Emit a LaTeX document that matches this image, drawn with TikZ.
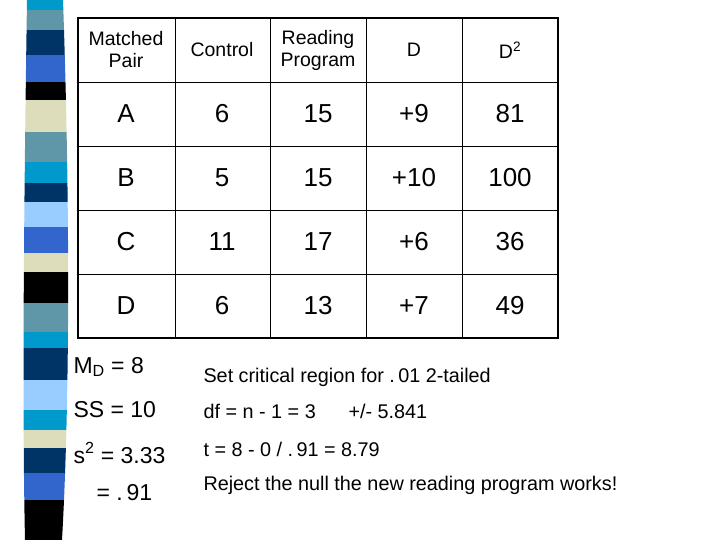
\documentclass[tikz,border=0pt]{standalone}
\usepackage{fontspec}
\setmainfont{Liberation Sans}
\begin{document}
\begin{tikzpicture}[x=1pt,y=-1pt,
  hdr/.style={font=\fontsize{19.5}{22}\selectfont,align=center},
  cell/.style={font=\fontsize{26}{30}\selectfont},
  lt/.style={font=\fontsize{23}{26}\selectfont,anchor=west},
  rt/.style={font=\fontsize{19.8}{23}\selectfont,anchor=west}]
\definecolor{cy}{HTML}{0099CC}\definecolor{gb}{HTML}{5F96A8}
\definecolor{nv}{HTML}{003366}\definecolor{rb}{HTML}{3366CC}
\definecolor{bg}{HTML}{DDDDBB}\definecolor{lb}{HTML}{99CCFF}
\useasboundingbox (0,0) rectangle (720,540);
\fill[white] (0,0) rectangle (720,540);
\begin{scope}
\clip (27,0) .. controls (24,200) and (22,400) .. (25,540) -- (62,540) .. controls (70,400) and (70,200) .. (63,0) -- cycle;
\foreach \a/\b/\c in {0/10/cy,10/30/gb,30/55/nv,55/82/rb,82/100/black,100/132/bg,132/162/gb,162/183/cy,183/202/nv,202/227/lb,227/253/rb,253/272/bg,272/303/black,303/332/gb,332/348/cy,348/380/nv,380/410/lb,410/430/cy,430/448/bg,448/473/nv,473/500/rb,500/540/black}
  \fill[\c] (0,\a) rectangle (80,\b);
\end{scope}
\draw[line width=0.8] (175,18)--(175,338) (270,18)--(270,338) (366,18)--(366,338) (462,18)--(462,338);
\draw[line width=0.8] (78,82)--(558,82) (78,146)--(558,146) (78,210)--(558,210) (78,274)--(558,274);
\draw[line width=1.5] (78,18) rectangle (558,338);
\node[hdr] (h1) at (126,50) {Matched\\Pair};
\node[hdr] (h2) at (222,50) {Control};
\node[hdr] (h3) at (318,50) {Reading\\Program};
\node[hdr] (h4) at (414,50) {D};
\node[hdr] (h5) at (510,50) {D\textsuperscript{2}};
\foreach \r/\y/\p/\q/\s/\t/\u in {1/114/A/6/15/+9/81,2/178/B/5/15/+10/100,3/242/C/11/17/+6/36,4/306/D/6/13/+7/49}{
  \node[cell] (a\r) at (126,\y) {\p};
  \node[cell] (b\r) at (222,\y) {\q};
  \node[cell] (c\r) at (318,\y) {\s};
  \node[cell] (d\r) at (414,\y) {\t};
  \node[cell] (e\r) at (510,\y) {\u};}
\node[lt] (m) at (70,367) {M\textsubscript{D} = 8};
\node[lt] (ss) at (70,410) {SS = 10};
\node[lt] (s2) at (70,453) {s\textsuperscript{2} = 3.33};
\node[lt] (v) at (93,493) {= .\,91};
\node[rt] (r1) at (200,377) {Set critical region for .\,01 2-tailed};
\node[rt] (r2) at (200,411) {df = n - 1 = 3};
\node[rt] (r3) at (345,411) {+/- 5.841};
\node[rt] (r4) at (200,449) {t = 8 - 0 / .\,91 = 8.79};
\node[rt] (r5) at (200,485) {Reject the null the new reading program works!};
\end{tikzpicture}
\end{document}
